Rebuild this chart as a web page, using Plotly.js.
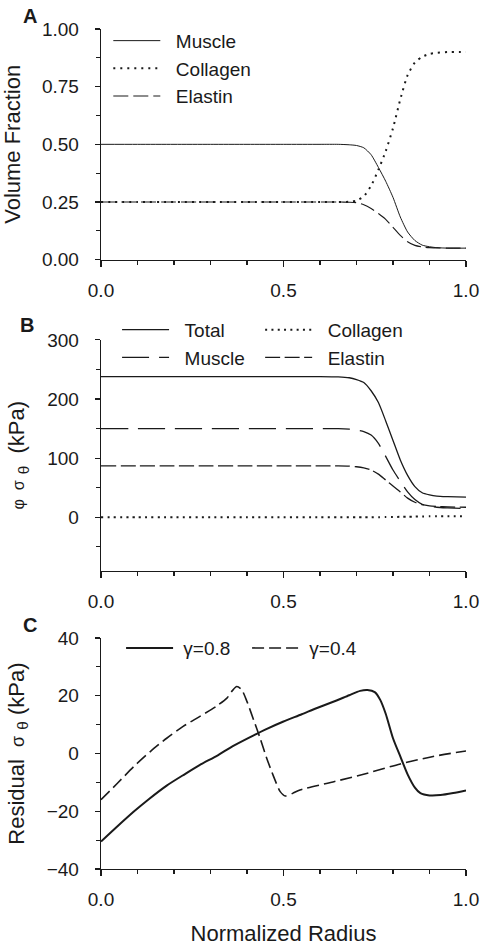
<!DOCTYPE html>
<html>
<head>
<meta charset="utf-8">
<script src="https://cdn.plot.ly/plotly-3.0.1.min.js"></script>
<style>
html,body{margin:0;padding:0;background:#fff;}
#chart{width:483px;height:946px;}
</style>
</head>
<body>
<div id="chart"></div>
<script>
// ---------- Panel A: volume fractions ----------
const radiusA   = [0, 0.1, 0.2, 0.3, 0.4, 0.5, 0.6, 0.65, 0.68, 0.70, 0.72, 0.74, 0.76, 0.78, 0.80, 0.82, 0.84, 0.86, 0.88, 0.90, 0.92, 0.95, 1.0];
const muscleA   = [0.5, 0.5, 0.5, 0.5, 0.5, 0.5, 0.5, 0.5, 0.498, 0.495, 0.485, 0.455, 0.40, 0.34, 0.27, 0.185, 0.12, 0.083, 0.063, 0.056, 0.052, 0.05, 0.05];
const collagenA = [0.25, 0.25, 0.25, 0.25, 0.25, 0.25, 0.25, 0.25, 0.251, 0.256, 0.275, 0.32, 0.39, 0.47, 0.57, 0.695, 0.80, 0.855, 0.88, 0.892, 0.897, 0.90, 0.90];
const elastinA  = [0.25, 0.25, 0.25, 0.25, 0.25, 0.25, 0.25, 0.25, 0.249, 0.247, 0.238, 0.222, 0.20, 0.175, 0.14, 0.105, 0.078, 0.062, 0.055, 0.052, 0.051, 0.05, 0.05];

// ---------- Panel B: phi * sigma_theta (kPa) ----------
const radiusB   = [0, 0.1, 0.2, 0.3, 0.4, 0.5, 0.6, 0.65, 0.68, 0.70, 0.72, 0.74, 0.76, 0.78, 0.80, 0.82, 0.84, 0.86, 0.88, 0.90, 0.92, 0.95, 1.0];
const totalB    = [238, 238, 238, 238, 238, 238, 238, 237.5, 236, 233, 228, 214, 194, 163, 130, 97, 71, 52, 41.5, 38, 36, 35, 34];
const muscleB   = [150, 150, 150, 150, 150, 150, 150, 150, 149, 147.5, 145, 139, 125, 103, 80, 61, 43, 30, 22, 19, 17, 16, 15];
const collagenB = [0, 0, 0, 0, 0, 0, 0, 0, 0, 0, 0.1, 0.2, 0.3, 0.4, 0.5, 0.8, 1.0, 1.2, 1.5, 1.8, 1.9, 2.0, 2.0];
const elastinB  = [87, 87, 87, 87, 87, 87, 87, 87, 86.5, 85.5, 83.5, 80, 73, 63, 53, 43, 32.5, 25.5, 21.5, 19.5, 18.5, 17.5, 17];

// ---------- Panel C: residual sigma_theta (kPa) ----------
const radiusG08 = [0, 0.04, 0.09, 0.13, 0.18, 0.23, 0.27, 0.32, 0.36, 0.41, 0.45, 0.50, 0.55, 0.59, 0.64, 0.68, 0.71, 0.73, 0.75, 0.765, 0.78, 0.80, 0.82, 0.84, 0.86, 0.875, 0.90, 0.93, 0.965, 1.0];
const residG08  = [-30.5, -25.8, -20.1, -15.9, -11.1, -7.1, -4.0, -0.6, 2.5, 5.8, 8.3, 11.1, 13.6, 15.7, 18.1, 20.2, 21.7, 22.0, 21.3, 18.6, 13.8, 5.3, -1.0, -7.2, -11.8, -13.7, -14.5, -14.4, -13.7, -12.8];
const radiusG04 = [0, 0.045, 0.09, 0.135, 0.18, 0.225, 0.27, 0.315, 0.345, 0.36, 0.372, 0.385, 0.40, 0.418, 0.436, 0.454, 0.473, 0.491, 0.505, 0.525, 0.545, 0.64, 0.73, 0.82, 0.91, 1.0];
const residG04  = [-16, -10.3, -4.5, 0.7, 5.3, 9.4, 12.8, 16.3, 19.2, 21.8, 23.2, 22.2, 18.0, 11.7, 5.3, -1.6, -8.0, -13.2, -14.7, -13.8, -12.6, -9.7, -6.8, -3.6, -1.0, 0.9];

const legendNamesA = ['Muscle', 'Collagen', 'Elastin'];
const legendNamesB = ['Total', 'Muscle', 'Collagen', 'Elastin'];
const legendNamesC = ['\u03b3=0.8', '\u03b3=0.4'];

const INK = '#1a1a1a';
const FONT = 'Liberation Sans, Arial, sans-serif';
const GAP = '\u00a0\u00a0'; // extra space between legend sample and label
const GAP1 = '\u00a0';

const traces = [
  {x: radiusA, y: muscleA, name: GAP + legendNamesA[0], xaxis: 'x', yaxis: 'y', legend: 'legend',
   mode: 'lines', line: {color: INK, width: 1, shape: 'spline', smoothing: 0.6}},
  {x: radiusA, y: collagenA, name: GAP + legendNamesA[1], xaxis: 'x', yaxis: 'y', legend: 'legend',
   mode: 'lines', line: {color: INK, width: 2, dash: '2px,5px', shape: 'spline', smoothing: 0.6}},
  {x: radiusA, y: elastinA, name: GAP + legendNamesA[2], xaxis: 'x', yaxis: 'y', legend: 'legend',
   mode: 'lines', line: {color: INK, width: 1.1, dash: '15px,5px', shape: 'spline', smoothing: 0.6}},

  {x: radiusB, y: totalB, name: GAP + legendNamesB[0], xaxis: 'x2', yaxis: 'y2', legend: 'legend2',
   mode: 'lines', line: {color: INK, width: 1.3, shape: 'spline', smoothing: 0.6}},
  {x: radiusB, y: muscleB, name: GAP + legendNamesB[1], xaxis: 'x2', yaxis: 'y2', legend: 'legend2',
   mode: 'lines', line: {color: INK, width: 1.3, dash: '27px,10px', shape: 'spline', smoothing: 0.6}},
  {x: radiusB, y: collagenB, name: GAP + legendNamesB[2], xaxis: 'x2', yaxis: 'y2', legend: 'legend3',
   mode: 'lines', line: {color: INK, width: 2, dash: '2px,4.3px', shape: 'spline', smoothing: 0.6}},
  {x: radiusB, y: elastinB, name: GAP + legendNamesB[3], xaxis: 'x2', yaxis: 'y2', legend: 'legend3',
   mode: 'lines', line: {color: INK, width: 1.3, dash: '15px,4.5px', shape: 'spline', smoothing: 0.6}},

  {x: radiusG08, y: residG08, name: GAP1 + legendNamesC[0], xaxis: 'x3', yaxis: 'y3', legend: 'legend4',
   mode: 'lines', line: {color: INK, width: 2, shape: 'spline', smoothing: 0.7}},
  {x: radiusG04, y: residG04, name: GAP1 + legendNamesC[1], xaxis: 'x3', yaxis: 'y3', legend: 'legend4',
   mode: 'lines', line: {color: INK, width: 1.6, dash: '12px,5px', shape: 'spline', smoothing: 0.7}}
];

function xAxis(anchor, domainTitle) {
  const ax = {
    anchor: anchor, domain: [0, 1], range: [0, 1], dtick: 0.5, tick0: 0, tickformat: '.1f',
    showline: true, linecolor: INK, linewidth: 1.3, mirror: false,
    ticks: 'outside', ticklen: 6, tickwidth: 1.2, tickcolor: INK,
    minor: {dtick: 0.1, ticks: 'outside', ticklen: 4, tickwidth: 1.1, tickcolor: INK, showgrid: false},
    showgrid: false, zeroline: false, fixedrange: true,
    tickfont: {family: FONT, size: 19, color: INK}, ticklabelstandoff: 7
  };
  if (domainTitle) {
    ax.title = {text: domainTitle, font: {family: FONT, size: 22, color: INK}, standoff: 16};
  }
  return ax;
}
function yAxis(anchor, domain, range, dtick, minorDtick, fmt, title, standoff) {
  return {
    anchor: anchor, domain: domain, range: range, dtick: dtick, tick0: 0, tickformat: fmt,
    showline: true, linecolor: INK, linewidth: 1.3,
    ticks: 'outside', ticklen: 5, tickwidth: 1.2, tickcolor: INK,
    minor: {dtick: minorDtick, ticks: 'outside', ticklen: 4, tickwidth: 1.1, tickcolor: INK, showgrid: false},
    showgrid: false, zeroline: false, fixedrange: true,
    tickfont: {family: FONT, size: 19, color: INK}, ticklabelstandoff: 12,
    title: {text: title, font: {family: FONT, size: 22, color: INK}, standoff: standoff}
  };
}

const legendCommon = {
  bgcolor: 'rgba(0,0,0,0)', borderwidth: 0,
  font: {family: FONT, size: 19, color: INK},
  xref: 'paper', yref: 'paper', xanchor: 'left', yanchor: 'top',
  itemwidth: 47, traceorder: 'normal', tracegroupgap: 0
};

const layout = {
  width: 483, height: 946,
  margin: {l: 101, r: 17, t: 29, b: 77},
  paper_bgcolor: '#fff', plot_bgcolor: '#fff',
  font: {family: FONT, color: INK},
  showlegend: true,
  xaxis: xAxis('y', null),
  yaxis: yAxis('x', [0.7254, 1], [0, 1], 0.25, 0.125, '.2f', 'Volume Fraction', 16),
  xaxis2: xAxis('y2', null),
  yaxis2: yAxis('x2', [0.3553, 0.6299], [-90, 300], 100, 50, 'd',
    '<span style="font-size:16px">\u03c6\u00a0\u00a0\u03c3</span>\u00a0<sub>\u03b8</sub>\u00a0\u00a0(kPa)', 16),
  xaxis3: xAxis('y3', 'Normalized Radius'),
  yaxis3: yAxis('x3', [0, 0.2749], [-40, 40], 20, 10, 'd',
    'Residual\u00a0\u00a0<span style="font-size:18px">\u03c3</span>\u00a0<sub>\u03b8</sub>\u00a0(kPa)', 16),
  legend: Object.assign({}, legendCommon, {x: 0.02, y: 1.0086}),
  legend2: Object.assign({}, legendCommon, {x: 0.044, y: 0.6645}),
  legend3: Object.assign({}, legendCommon, {x: 0.436, y: 0.6645}),
  legend4: Object.assign({}, legendCommon, {x: 0.055, y: 0.2856, orientation: 'h', entrywidth: 64}),
  annotations: [
    {text: '<b>A</b>', xref: 'paper', yref: 'paper', x: -0.218, y: 1.0155, xanchor: 'left', yanchor: 'middle',
     showarrow: false, font: {family: FONT, size: 20, color: INK}},
    {text: '<b>B</b>', xref: 'paper', yref: 'paper', x: -0.228, y: 0.6477, xanchor: 'left', yanchor: 'middle',
     showarrow: false, font: {family: FONT, size: 20, color: INK}},
    {text: '<b>C</b>', xref: 'paper', yref: 'paper', x: -0.218, y: 0.2907, xanchor: 'left', yanchor: 'middle',
     showarrow: false, font: {family: FONT, size: 20, color: INK}}
  ]
};

Plotly.newPlot('chart', traces, layout, {displayModeBar: false, staticPlot: true});
</script>
</body>
</html>
